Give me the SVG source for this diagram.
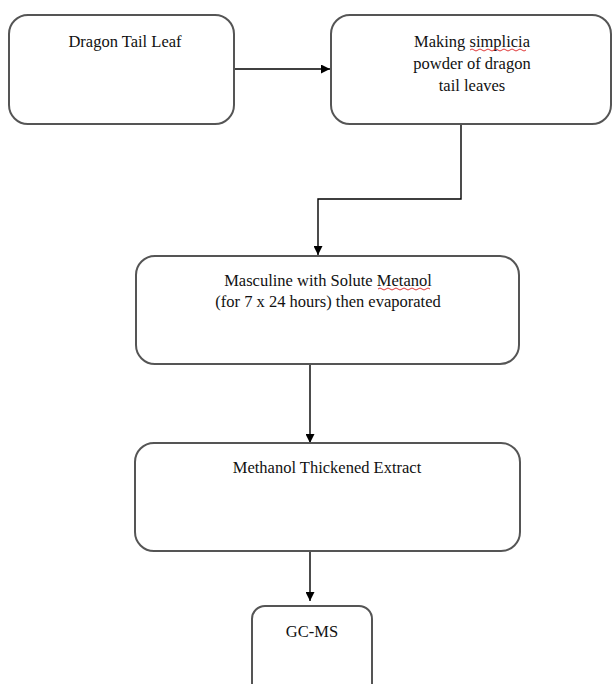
<svg xmlns="http://www.w3.org/2000/svg" width="612" height="684" viewBox="0 0 612 684">
<defs>
<marker id="ah" viewBox="0 0 10 10" refX="10" refY="5" markerWidth="9" markerHeight="9" markerUnits="userSpaceOnUse" orient="auto">
<path d="M0,0 L10,5 L0,10 Z" fill="#000"/>
</marker>
</defs>
<style>
.box{fill:#fff;stroke:#555;stroke-width:2}
.t{font-family:"Liberation Serif","Times New Roman",serif;font-size:16.5px;fill:#111;text-anchor:middle}
.c{fill:none;stroke:#000;stroke-width:1.4}
.sq{fill:none;stroke:#d22;stroke-width:0.9}
</style>
<rect width="612" height="684" fill="#fff"/>
<g id="connectors">
<path class="c" d="M234,69 H330" marker-end="url(#ah)"/>
<path class="c" d="M461,124 V199 H318 V255" marker-end="url(#ah)"/>
<path class="c" d="M310,364 V443" marker-end="url(#ah)"/>
<path class="c" d="M310,551 V601" marker-end="url(#ah)"/>
</g>
<g id="n1">
<rect class="box" x="9" y="15" width="225" height="109" rx="19"/>
<text class="t" x="125" y="47">Dragon Tail Leaf</text>
</g>
<g id="n2">
<rect class="box" x="331" y="15" width="280" height="109" rx="19"/>
<text class="t" x="472" y="47">Making simplicia</text>
<text class="t" x="472" y="69">powder of dragon</text>
<text class="t" x="472" y="91">tail leaves</text>
<path class="sq" d="M470,50 q2,-2 4,0 t4,0 t4,0 t4,0 t4,0 t4,0 t4,0 t4,0 t4,0 t4,0 t4,0 t4,0 t4,0 t4,0"/>
</g>
<g id="n3">
<rect class="box" x="136" y="256" width="383" height="108" rx="19"/>
<text class="t" x="328" y="286">Masculine with Solute Metanol</text>
<text class="t" x="328" y="307">(for 7 x 24 hours) then evaporated</text>
<path class="sq" d="M378,289 q2,-2 4,0 t4,0 t4,0 t4,0 t4,0 t4,0 t4,0 t4,0 t4,0 t4,0 t4,0 t4,0 t4,0"/>
</g>
<g id="n4">
<rect class="box" x="135" y="443" width="385" height="108" rx="19"/>
<text class="t" x="327" y="473">Methanol Thickened Extract</text>
</g>
<g id="n5">
<rect class="box" x="252" y="606" width="120" height="100" rx="13"/>
<text class="t" x="312" y="637">GC-MS</text>
</g>
</svg>
